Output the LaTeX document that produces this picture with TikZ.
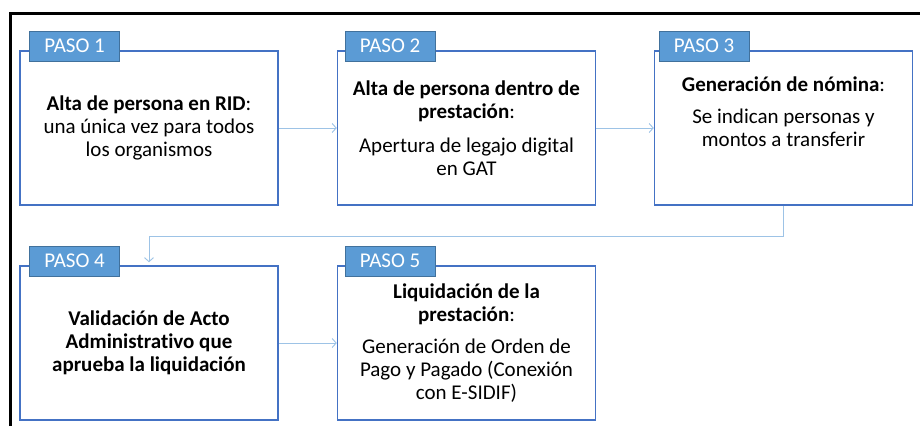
\documentclass[tikz,border=0pt]{standalone}
\usepackage{fontspec}
\setmainfont{Carlito}[Ligatures=NoCommon]
\usetikzlibrary{arrows.meta}

\definecolor{boxBlue}{HTML}{4472C4}
\definecolor{tabBlue}{HTML}{5B9BD5}
\definecolor{tabEdge}{HTML}{41719C}
\definecolor{lineBlue}{HTML}{9DC3E6}

\begin{document}
\begin{tikzpicture}[x=1pt,y=-1pt]
	\tikzset{stepBox/.style = {shape=rectangle,draw=boxBlue,line width=1.5pt,
			minimum width=258pt,minimum height=154pt,inner sep=0pt,
			align=center,font=\fontsize{21}{22.8}\selectfont}}
	\tikzset{stepTab/.style = {shape=rectangle,fill=tabBlue,draw=tabEdge,
			line width=0.8pt,minimum width=90pt,minimum height=30pt,
			inner sep=0pt,text=white,font=\fontsize{21}{22}\selectfont}}
	\tikzset{edge/.style = {-{Straight Barb[length=4pt,width=9pt]},
			draw=lineBlue,line width=0.9pt}}
	
	\useasboundingbox (0,0) rectangle (920,426);
	
	% frame
	\draw[line width=3pt] (10,426) -- (10,13) -- (920,13);
	
	% boxes
	\node[stepBox] (b1) at (149,128) {\textbf{Alta de persona en RID}:\\
		una única vez para todos\\ los organismos};
	\node[stepBox] (b2) at (466.5,128) {\textbf{Alta de persona dentro de}\\
		\textbf{prestación}:\\[11pt] Apertura de legajo digital\\ en GAT};
	\node[stepBox] (b3) at (783.5,128) {\textbf{Generación de nómina}:\\[10pt]
		Se indican personas y\\ montos a transferir\\[10pt] \mbox{}};
	\node[stepBox] (b4) at (149,343) {\textbf{Validación de Acto}\\
		\textbf{Administrativo que}\\ \textbf{aprueba la liquidación}};
	\node[stepBox] (b5) at (466.5,343) {\textbf{Liquidación de la}\\
		\textbf{prestación}:\\[9pt] Generación de Orden de\\
		Pago y Pagado (Conexión\\ con E-SIDIF)};
	
	% tabs
	\node[stepTab,anchor=west] (t1) at ([xshift=10pt,yshift=4pt]b1.north west) {PASO 1};
	\node[stepTab,anchor=west] (t2) at ([xshift=8pt,yshift=4pt]b2.north west) {PASO 2};
	\node[stepTab,anchor=west] (t3) at ([xshift=5pt,yshift=4pt]b3.north west) {PASO 3};
	\node[stepTab,anchor=west] (t4) at ([xshift=10pt,yshift=4pt]b4.north west) {PASO 4};
	\node[stepTab,anchor=west] (t5) at ([xshift=8pt,yshift=4pt]b5.north west) {PASO 5};
	
	% edges
	\draw[edge] (b1) -- (b2);
	\draw[edge] (b2) -- (b3);
	\draw[edge] (b3.south) -- ++(0,31) -| ([yshift=3pt]b4.north);
	\draw[edge] (b4) -- (b5);
	
\end{tikzpicture}
\end{document}
